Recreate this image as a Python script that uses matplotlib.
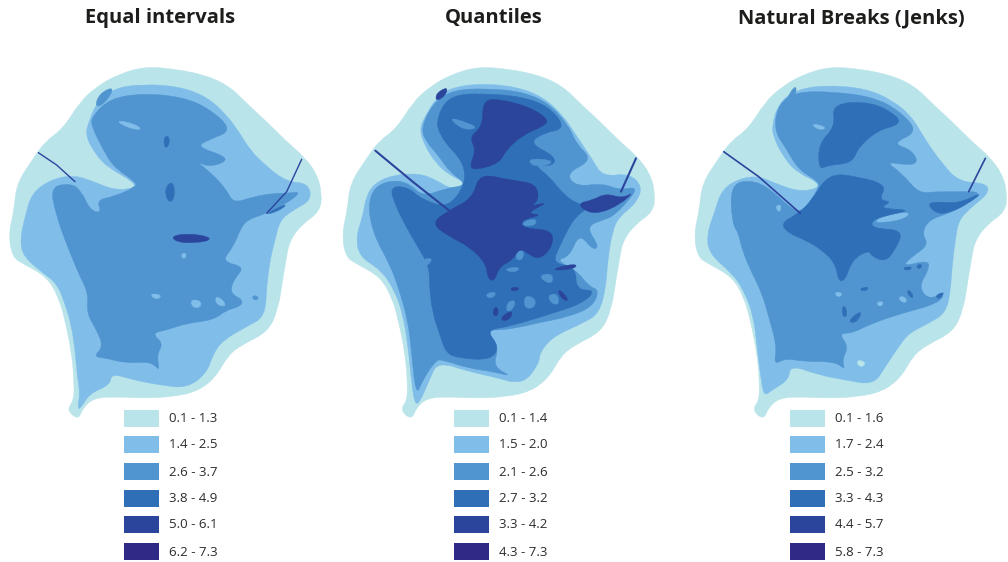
import matplotlib
matplotlib.use("Agg")
import matplotlib.pyplot as plt
from matplotlib.patches import PathPatch, Rectangle
from matplotlib.path import Path

titles = ["Equal intervals", "Quantiles", "Natural Breaks (Jenks)"]
title_x = [160, 494, 851]
crop_x = [0, 336, 672]
outline_shift = [0, -8, 40]

labels_equal = ["0.1 - 1.3", "1.4 - 2.5", "2.6 - 3.7", "3.8 - 4.9", "5.0 - 6.1", "6.2 - 7.3"]
labels_quant = ["0.1 - 1.4", "1.5 - 2.0", "2.1 - 2.6", "2.7 - 3.2", "3.3 - 4.2", "4.3 - 7.3"]
labels_jenks = ["0.1 - 1.6", "1.7 - 2.4", "2.5 - 3.2", "3.3 - 4.3", "4.4 - 5.7", "5.8 - 7.3"]
swatch_x = [124, 454, 790]
swatch_y = [410, 436, 463, 490, 516, 543]
colors = ["#b9e4ea", "#80bde9", "#5094d0", "#2f6fb7", "#2b449c", "#2e2a85"]

outline = [(235,1080),(200,1050),(222,1020),(222,960),(215,880),(195,780),(175,710),(140,650),(70,612),
           (36,590),(26,520),(42,450),(50,370),(100,295),(135,245),(190,205),(240,125),(290,80),(350,45),
           (430,20),(520,26),(620,46),(690,80),(740,130),(800,185),(860,245),(912,290),(950,340),(966,400),
           (960,455),(903,495),(868,545),(858,600),(848,660),(835,745),(805,815),(725,855),(685,885),
           (645,955),(590,995),(520,1010),(430,1015),(340,1010),(280,1015),(248,1045)]

# panel 1
eq_c2 = [(232,1050),(240,1000),(232,950),(225,870),(215,800),(195,730),(170,670),(130,640),(70,590),(60,540),
         (75,470),(95,400),(150,360),(215,345),(270,360),(340,390),(405,385),(400,365),(320,320),(285,280),
         (255,225),(270,175),(290,130),(340,85),(430,72),(540,80),(620,110),(680,165),(720,220),(750,270),
         (800,320),(860,365),(925,370),(935,420),(880,450),(840,480),(825,540),(810,600),(800,680),(795,770),
         (740,800),(670,840),(640,880),(620,940),(560,985),(480,975),(400,960),(335,940),(330,975),(270,1000),(245,1040)]
eq_c3 = [(280,890),(310,860),(290,810),(260,760),(265,700),(240,650),(215,590),(195,540),(170,470),(150,380),
         (215,370),(245,395),(270,450),(305,460),(290,420),(340,410),(410,380),(405,365),(340,320),(310,270),
         (275,200),(275,170),(330,115),(430,100),(540,110),(620,140),(700,210),(625,240),(590,260),(680,290),
         (670,310),(620,320),(585,300),(640,345),(680,390),(700,430),(760,410),(820,400),(860,400),(905,395),
         (860,430),(800,460),(740,480),(720,510),(700,560),(665,605),(735,620),(700,660),(690,700),(730,720),
         (720,740),(680,750),(640,780),(560,790),(500,810),(455,820),(490,850),(470,885),(480,935),(455,905),
         (380,910),(320,895)]
eq_c3_extra = [[(285,135),(300,100),(340,80),(330,110),(300,140)],
               [(765,705),(778,715),(765,722),(755,712)]]
eq_holes = [[(345,180),(400,190),(430,210),(385,205)], [(455,700),(485,705),(475,718),(455,712)],
            [(570,720),(600,720),(605,740),(580,745)], [(645,710),(665,715),(680,740),(650,735)],
            [(545,580),(560,580),(555,597),(545,592)]]
eq_c4 = [[(490,235),(505,225),(510,250),(495,268)], [(500,375),(520,365),(525,410),(510,430),(495,405)],
         [(800,460),(860,430),(850,445),(810,462)]]
eq_c5 = [[(510,530),(560,520),(630,530),(625,545),(540,550)]]
eq_lines = [[(115,278),(170,315),(225,365)], [(905,298),(860,395),(800,460)]]

# panel 2
qu_c2 = [(235,1030),(225,950),(215,850),(200,760),(175,690),(135,630),(70,590),(60,530),(80,470),(90,410),
         (115,370),(170,345),(250,340),(300,360),(340,385),(395,385),(390,368),(340,345),(300,310),(265,255),
         (250,205),(270,165),(300,115),(340,85),(430,70),(540,80),(620,110),(680,165),(720,225),(770,300),
         (800,350),(880,340),(920,380),(900,430),(850,470),(830,510),(815,600),(810,680),(790,760),(740,790),
         (650,830),(610,880),(610,910),(560,975),(470,950),(400,935),(305,905),(280,960),(250,1030)]
qu_c3 = [(95,440),(115,380),(170,360),(220,370),(260,410),(330,385),(395,375),(340,335),(310,290),(270,245),
         (255,205),(290,130),(350,90),(450,85),(560,95),(640,130),(700,200),(720,250),(770,300),(690,340),
         (720,380),(800,370),(850,390),(905,380),(880,420),(830,470),(800,480),(750,500),(790,560),(770,570),
         (730,520),(700,590),(660,600),(720,630),(760,680),(790,690),(770,740),(700,770),(600,790),(560,800),
         (500,810),(450,810),(490,860),(470,920),(530,950),(470,935),(400,925),(320,900),(300,900),(260,960),
         (240,1010),(225,860),(215,780),(190,690),(160,610),(115,530)]
qu_c4 = [(160,380),(215,380),(260,420),(345,445),(405,330),(300,220),(310,150),(350,105),(440,100),(560,110),
         (640,140),(690,205),(620,220),(580,250),(660,290),(650,320),(590,310),(640,350),(680,400),(720,430),
         (760,440),(720,470),(700,500),(670,560),(650,610),(720,620),(720,690),(780,690),(740,730),(650,760),
         (520,800),(450,810),(490,860),(465,900),(370,895),(330,880),(310,820),(290,760),(280,680),(280,620),
         (245,560),(210,500),(180,440)]
qu_c3_holes = [[(245,605),(290,590),(280,615),(250,620)], [(560,485),(600,475),(600,495),(565,500)],
               [(575,295),(650,300),(640,315),(590,320)], [(450,700),(480,695),(475,712),(455,715)],
               [(565,705),(600,715),(595,745),(565,745)], [(635,705),(665,700),(670,735),(645,730)],
               [(610,645),(650,640),(650,670),(625,665)], [(510,625),(550,620),(545,635),(515,635)],
               [(540,575),(565,570),(560,600),(540,600)], [(335,170),(400,190),(425,205),(380,210)],
               [(515,725),(540,720),(530,750),(510,755)]]
qu_c5 = [[(400,230),(440,200),(440,125),(480,115),(580,140),(640,180),(620,200),(560,225),(510,270),(490,310),
          (420,330),(400,320),(420,270)],
         [(285,490),(340,450),(410,415),(430,340),(520,360),(600,370),(610,420),(580,440),(640,425),(570,460),
          (620,465),(555,480),(560,505),(650,510),(650,560),(610,600),(575,580),(550,565),(530,600),(490,620),
          (475,665),(455,655),(450,610),(400,560),(340,530)],
         [(725,430),(770,420),(810,400),(860,415),(895,395),(850,435),(790,460),(750,455)],
         [(300,100),(335,80),(330,105),(300,125)],
         [(655,625),(720,610),(720,625),(660,632)], [(665,690),(680,695),(700,725),(675,715)],
         [(475,740),(487,745),(485,770),(470,765)], [(495,770),(530,750),(525,775),(500,785)],
         [(525,682),(550,682),(545,692),(525,692)]]
qu_lines = [[(118,272),(230,365),(350,460)], [(900,295),(855,395)]]

# panel 3
jk_c2 = [(275,1010),(265,940),(255,860),(245,770),(215,690),(180,640),(110,580),(105,520),(130,450),(145,400),
         (180,365),(250,345),(310,370),(380,395),(440,385),(435,365),(380,340),(340,300),(305,235),(300,195),
         (320,130),(370,90),(460,75),(580,85),(660,120),(720,170),(760,240),(810,310),(860,365),(945,370),
         (950,400),(900,440),(860,480),(850,540),(840,620),(835,700),(820,760),(770,790),(710,820),(680,860),
         (640,920),(605,975),(520,960),(440,945),(355,915),(350,960),(300,990)]
jk_c3 = [(305,915),(315,860),(290,770),(270,700),(240,640),(210,570),(200,520),(180,490),(175,370),(250,360),
         (310,400),(350,440),(390,460),(440,385),(440,365),(380,330),(345,270),(305,210),(320,130),(375,95),
         (480,95),(600,110),(680,150),(740,215),(660,250),(720,270),(740,310),(700,315),(640,305),(690,340),
         (740,400),(790,395),(860,395),(930,395),(890,430),(830,460),(770,480),(750,520),(770,555),(720,590),
         (690,620),(770,600),(770,630),(740,680),(770,720),(820,695),(800,730),(690,760),(600,790),(540,820),
         (500,820),(530,860),(510,900),(520,930),(490,905),(400,905),(340,895)]
jk_c3_extra = [[(340,125),(365,80),(375,85),(365,115)]]
jk_holes = [[(420,190),(460,200),(455,210),(430,205)], [(312,435),(328,435),(325,455),(315,452)],
            [(490,695),(512,700),(505,710),(492,708)], [(615,725),(635,725),(630,738),(618,738)],
            [(680,710),(700,710),(705,728),(685,725)], [(600,490),(690,480),(720,455),(640,465)]]
jk_c4 = [[(480,130),(600,125),(680,170),(680,195),(620,210),(560,260),(540,310),(470,315),(440,330),(440,250),(490,200)],
         [(325,490),(380,460),(420,420),(470,340),(560,350),(645,375),(620,420),(660,425),(620,445),(720,450),
          (650,465),(600,480),(600,505),(695,510),(670,570),(640,605),(600,590),(590,570),(540,600),(520,660),
          (500,665),(490,610),(450,570),(400,540),(350,520)],
         [(765,430),(800,425),(860,430),(935,395),(890,430),(830,460),(790,460)],
         [(510,740),(522,740),(525,770),(512,770)], [(530,780),(570,750),(560,780),(540,790)],
         [(695,622),(720,620),(715,630),(697,630)], [(735,615),(750,612),(748,625),(735,625)],
         [(565,685),(590,680),(585,692),(568,692)], [(705,690),(718,695),(725,715),(710,708)],
         [(790,705),(820,695),(800,720)]]
jk_c1_spot = [[(555,900),(580,905),(575,920),(558,918)]]
jk_lines = [[(155,275),(260,350),(385,460)], [(940,295),(890,395)]]

# (class index, polygons) in draw order for every panel
panel_layers = [
    [(1, [eq_c2]), (2, [eq_c3] + eq_c3_extra), (1, eq_holes), (3, eq_c4), (4, eq_c5)],
    [(1, [qu_c2]), (2, [qu_c3]), (3, [qu_c4]), (2, qu_c3_holes), (4, qu_c5)],
    [(1, [jk_c2]), (2, [jk_c3] + jk_c3_extra), (1, jk_holes), (3, jk_c4), (0, jk_c1_spot)],
]
panel_lines = [eq_lines, qu_lines, jk_lines]
line_widths = [1.0, 1.5, 1.2]
panel_labels = [labels_equal, labels_quant, labels_jenks]


def to_px(poly, left, shift=0):
    return [((x + shift) / 3 + left, y / 3 + 60) for x, y in poly]


def smooth_patch(pts, color):
    # quadratic bezier through the edge midpoints, vertices act as control points
    n = len(pts)
    mids = [((pts[k][0] + pts[(k + 1) % n][0]) / 2, (pts[k][1] + pts[(k + 1) % n][1]) / 2) for k in range(n)]
    verts = [mids[-1]]
    codes = [Path.MOVETO]
    for k in range(n):
        verts += [pts[k], mids[k]]
        codes += [Path.CURVE3, Path.CURVE3]
    return PathPatch(Path(verts, codes), fc=color, ec=color, lw=0.3)


fig = plt.figure(figsize=(10.08, 5.62), dpi=100)
ax = fig.add_axes([0, 0, 1, 1])
ax.set_xlim(0, 1008)
ax.set_ylim(562, 0)
ax.axis("off")

for i, title in enumerate(titles):
    ax.text(title_x[i], 18, title, ha="center", va="center", fontsize=14.5,
            fontweight="bold", family="Open Sans", color="#1d1d1b")
    left = crop_x[i]
    ax.add_patch(smooth_patch(to_px(outline, left, outline_shift[i]), colors[0]))
    for cls, polys in panel_layers[i]:
        for poly in polys:
            ax.add_patch(smooth_patch(to_px(poly, left), colors[cls]))
    for line in panel_lines[i]:
        pts = to_px(line, left)
        ax.plot([p[0] for p in pts], [p[1] for p in pts], color=colors[4], lw=line_widths[i],
                solid_capstyle="round")
    for y, c, lab in zip(swatch_y, colors, panel_labels[i]):
        ax.add_patch(Rectangle((swatch_x[i], y), 35, 17, fc=c, ec="none"))
        ax.text(swatch_x[i] + 45, y + 9, lab, ha="left", va="center", fontsize=9.5,
                family="Open Sans", color="#2b2b2b")

fig.savefig("out.png", dpi=100)
